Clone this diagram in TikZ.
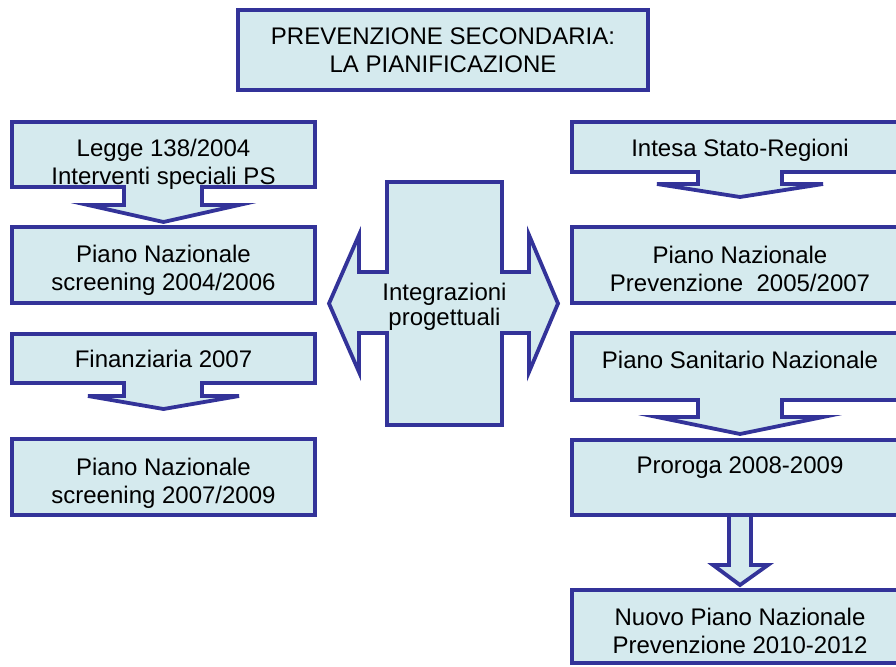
\documentclass[tikz,border=0pt]{standalone}
\usepackage{fontspec}
\setmainfont{Liberation Sans}
\definecolor{bd}{HTML}{333399}
\definecolor{fl}{HTML}{D5EAEE}
\begin{document}
\begin{tikzpicture}[x=1pt,y=-1pt,
  shp/.style={draw=bd,fill=fl,line width=3.8pt,line join=miter},
  lbl/.style={anchor=base,inner sep=0pt,font=\fontsize{24}{28}\selectfont}]
\useasboundingbox (0,0) rectangle (896,666);
% title
\draw[shp] (238,10) rectangle (648,90);
\node[lbl] (title) at (443,45) {\begin{tabular}[t]{@{}c@{}}PREVENZIONE SECONDARIA:\\LA PIANIFICAZIONE\end{tabular}};
% left column
\draw[shp] (12,122) -- (315,122) -- (315,187) -- (202,187) -- (202,205) -- (239,205) -- (163.5,222) -- (88,205) -- (124,205) -- (124,187) -- (12,187) -- cycle;
\node[lbl] (l1) at (163.5,157) {\begin{tabular}[t]{@{}c@{}}Legge 138/2004\\Interventi speciali PS\end{tabular}};
\draw[shp] (12,227) rectangle (315,303);
\node[lbl] (l2) at (163.5,262) {\begin{tabular}[t]{@{}c@{}}Piano Nazionale\\screening 2004/2006\end{tabular}};
\draw[shp] (12,334) -- (315,334) -- (315,383) -- (202,383) -- (202,396) -- (239,396) -- (163.5,409) -- (88,396) -- (124,396) -- (124,383) -- (12,383) -- cycle;
\node[lbl] (l3) at (163.5,367) {Finanziaria 2007};
\draw[shp] (12,439) rectangle (315,515);
\node[lbl] (l4) at (163.5,475) {\begin{tabular}[t]{@{}c@{}}Piano Nazionale\\screening 2007/2009\end{tabular}};
% centre cross
\draw[shp] (387,182) -- (502,182) -- (502,272) -- (529,272) -- (529,235) -- (558,303.5) -- (529,372) -- (529,333) -- (502,333) -- (502,425) -- (387,425) -- (387,333) -- (359,333) -- (359,372) -- (329,303.5) -- (359,235) -- (359,272) -- (387,272) -- cycle;
\node[lbl] (c) at (444.5,300) {\begin{tabular}[t]{@{}c@{}}Integrazioni\\[-3pt]progettuali\end{tabular}};
% right column
\draw[shp] (572,122) -- (910,122) -- (910,172) -- (782,172) -- (782,184) -- (823,184) -- (740,197) -- (657,184) -- (698,184) -- (698,172) -- (572,172) -- cycle;
\node[lbl] (r1) at (740,157) {Intesa Stato-Regioni};
\draw[shp] (572,227) rectangle (910,303);
\node[lbl] (r2) at (740,263) {\begin{tabular}[t]{@{}c@{}}Piano Nazionale\\Prevenzione~ 2005/2007\end{tabular}};
\draw[shp] (572,333) -- (910,333) -- (910,400) -- (782,400) -- (782,417) -- (823,417) -- (740,434) -- (657,417) -- (698,417) -- (698,400) -- (572,400) -- cycle;
\node[lbl] (r3) at (740,368) {Piano Sanitario Nazionale};
\draw[shp] (572,440) rectangle (910,515);
\node[lbl] (r4) at (740,473) {Proroga 2008-2009};
\draw[shp] (729,515) -- (751,515) -- (751,565) -- (768,565) -- (740,585) -- (713,565) -- (729,565) -- cycle;
\draw[shp] (572,590) rectangle (910,663);
\node[lbl] (r5) at (740,625) {\begin{tabular}[t]{@{}c@{}}Nuovo Piano Nazionale\\Prevenzione 2010-2012\end{tabular}};
\end{tikzpicture}
\end{document}
